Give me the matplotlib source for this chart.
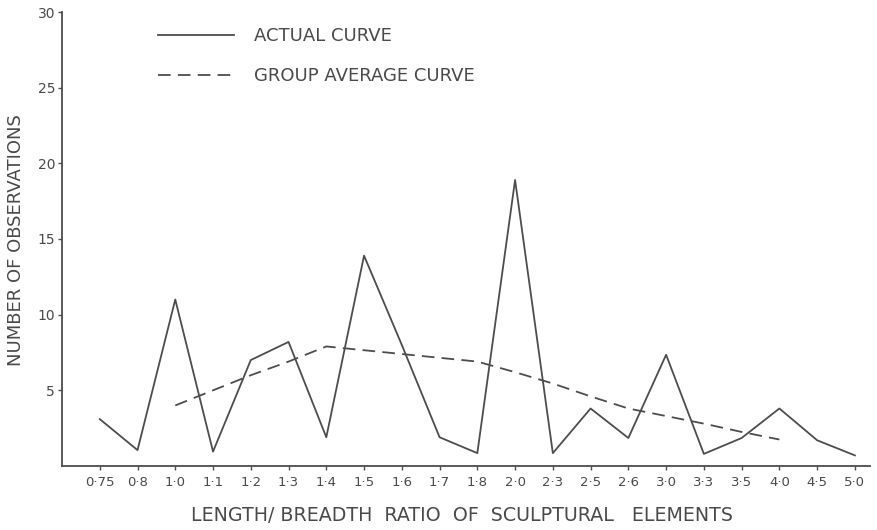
import matplotlib
matplotlib.use("Agg")
import matplotlib.pyplot as plt

# ---- data ----
categories = ["0·75", "0·8", "1·0", "1·1", "1·2", "1·3", "1·4", "1·5", "1·6", "1·7",
              "1·8", "2·0", "2·3", "2·5", "2·6", "3·0", "3·3", "3·5", "4·0", "4·5", "5·0"]
actual_values = [3.1, 1.05, 11.0, 0.95, 7.0, 8.2, 1.9, 13.9, 8.0, 1.9,
                 0.85, 18.9, 0.85, 3.8, 1.85, 7.35, 0.8, 1.85, 3.8, 1.7, 0.7]
avg_categories = ["1·0", "1·1", "1·2", "1·3", "1·4", "1·5", "1·6", "1·7", "1·8",
                  "2·0", "2·3", "2·5", "2·6", "3·0", "3·3", "3·5", "4·0"]
avg_values = [4.0, 5.0, 6.0, 6.9, 7.9, 7.65, 7.4, 7.15, 6.9,
              6.2, 5.45, 4.6, 3.8, 3.3, 2.8, 2.25, 1.75]
y_ticks = [5, 10, 15, 20, 25, 30]
legend_labels = ["ACTUAL CURVE", "GROUP AVERAGE CURVE"]
x_label = "LENGTH/ BREADTH  RATIO  OF  SCULPTURAL   ELEMENTS"
y_label = "NUMBER OF OBSERVATIONS"

# ---- style ----
ink = "#4d4d4d"
txt = "#4a4a4a"
plt.rcParams["font.family"] = ["DejaVu Sans"]

fig = plt.figure(figsize=(8.78, 5.30), dpi=100)
ax = fig.add_axes([62 / 878, 1 - 466 / 530, (870 - 62) / 878, (466 - 12) / 530])

xpos = {c: i for i, c in enumerate(categories)}
ax.plot([xpos[c] for c in categories], actual_values, color=ink, lw=1.3,
        label=legend_labels[0])
ax.plot([xpos[c] for c in avg_categories], avg_values, color=ink, lw=1.3,
        dashes=(7, 4), label=legend_labels[1])

ax.set_xlim(-1, 20.4)
ax.set_ylim(0, 30)
ax.set_xticks(range(len(categories)))
ax.set_xticklabels(categories, fontsize=9.5, color=txt)
ax.set_yticks(y_ticks)
ax.set_yticklabels([str(v) for v in y_ticks], fontsize=10, color=txt)
ax.tick_params(axis="both", direction="out", length=3, width=1, color=ink, pad=4)
ax.tick_params(axis="y", pad=2)

for s in ["top", "right"]:
    ax.spines[s].set_visible(False)
for s in ["left", "bottom"]:
    ax.spines[s].set_color(ink)
    ax.spines[s].set_linewidth(1.3)

W = 870 - 62
H = 466 - 12
ax.set_xlabel(x_label, fontsize=13.7, color=txt)
ax.xaxis.set_label_coords((462 - 62) / W, -(506 - 466) / H)
ax.set_ylabel(y_label, fontsize=13, color=txt)
ax.yaxis.set_label_coords(-(62 - 25) / W, (466 - 240) / H)

leg = fig.legend(loc="upper left", bbox_to_anchor=(158 / 878, 1 - 27 / 530),
                 frameon=False, fontsize=13, handlelength=4.2, handletextpad=1.1,
                 labelspacing=1.22, borderpad=0, borderaxespad=0)
for t in leg.get_texts():
    t.set_color(txt)

fig.savefig("out.png", dpi=100)
